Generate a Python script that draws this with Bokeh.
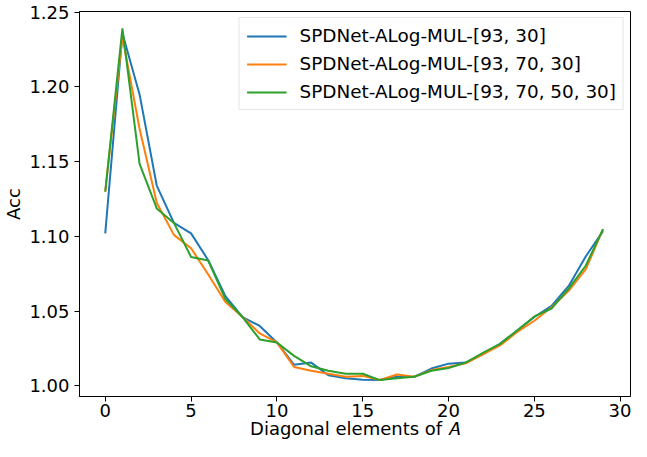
from bokeh.plotting import figure
from bokeh.models import Range1d, FixedTicker, PrintfTickFormatter, Legend, LegendItem
from bokeh.embed import file_html
from bokeh.resources import INLINE

x = list(range(30))
acc_93_30 = [1.102, 1.236, 1.195, 1.134, 1.109, 1.102, 1.084, 1.060, 1.046, 1.040,
             1.029, 1.014, 1.0155, 1.007, 1.005, 1.004, 1.0038, 1.006, 1.006, 1.0115,
             1.0148, 1.0155, 1.021, 1.028, 1.037, 1.046, 1.0535, 1.0668, 1.0867, 1.1035]
acc_93_70_30 = [1.130, 1.2336, 1.172, 1.1225, 1.101, 1.092, 1.0745, 1.056, 1.046, 1.035,
                1.029, 1.0126, 1.010, 1.008, 1.006, 1.0066, 1.0038, 1.0075, 1.006, 1.0105,
                1.0126, 1.015, 1.021, 1.027, 1.036, 1.0435, 1.0525, 1.0635, 1.078, 1.1048]
acc_93_70_50_30 = [1.130, 1.2392, 1.1485, 1.1187, 1.109, 1.0862, 1.0838, 1.058, 1.046, 1.031,
                   1.029, 1.020, 1.013, 1.010, 1.008, 1.008, 1.0038, 1.005, 1.006, 1.010,
                   1.0119, 1.0155, 1.022, 1.028, 1.037, 1.0464, 1.0517, 1.065, 1.0805, 1.1048]
labels = ["SPDNet-ALog-MUL-[93, 30]", "SPDNet-ALog-MUL-[93, 70, 30]", "SPDNet-ALog-MUL-[93, 70, 50, 30]"]
colors = ["#1f77b4", "#ff7f0e", "#2ca02c"]
x_ticks = [0, 5, 10, 15, 20, 25, 30]
y_ticks = [1.00, 1.05, 1.10, 1.15, 1.20, 1.25]

FONT = "DejaVu Sans"

p = figure(width=631, height=441, output_backend="svg", toolbar_location=None,
           x_range=Range1d(-1.5, 30.6), y_range=Range1d(0.9928, 1.2505),
           min_border_left=72, min_border_right=1, min_border_top=11, min_border_bottom=0)
p.background_fill_color = "white"
p.border_fill_color = "white"
p.outline_line_color = "black"
p.outline_line_width = 1
p.grid.visible = False

items = []
for series, lab, col in zip([acc_93_30, acc_93_70_30, acc_93_70_50_30], labels, colors):
    r = p.line(x, series, line_color=col, line_width=2)
    items.append(LegendItem(label=lab, renderers=[r]))

for ax in [p.xaxis[0], p.yaxis[0]]:
    ax.axis_line_color = "black"
    ax.major_tick_line_color = "black"
    ax.major_tick_out = 5
    ax.major_tick_in = 0
    ax.minor_tick_line_color = None
    ax.major_label_text_font = FONT
    ax.major_label_text_font_size = "18px"
    ax.major_label_text_color = "black"
    ax.axis_label_text_font = FONT
    ax.axis_label_text_font_size = "18px"
    ax.axis_label_text_font_style = "normal"
    ax.axis_label_text_color = "black"

p.xaxis.major_label_standoff = 2
p.yaxis.major_label_standoff = 5
p.xaxis.ticker = FixedTicker(ticks=x_ticks)
p.yaxis.ticker = FixedTicker(ticks=y_ticks)
p.yaxis.formatter = PrintfTickFormatter(format="%.2f")
p.xaxis.axis_label = "Diagonal elements of 𝐴"
p.yaxis.axis_label = "Acc"
p.xaxis.axis_label_standoff = -2
p.yaxis.axis_label_standoff = 2

legend = Legend(items=items, location="top_right", margin=6, padding=7,
                spacing=7, glyph_width=40, glyph_height=20, label_height=20,
                label_standoff=13, label_text_font=FONT, label_text_font_size="18.4px",
                label_text_color="black",
                border_line_color="#cccccc", border_line_width=1,
                background_fill_color="white", background_fill_alpha=0.8)
p.add_layout(legend)

open("out.html", "w").write(file_html(p, INLINE))
